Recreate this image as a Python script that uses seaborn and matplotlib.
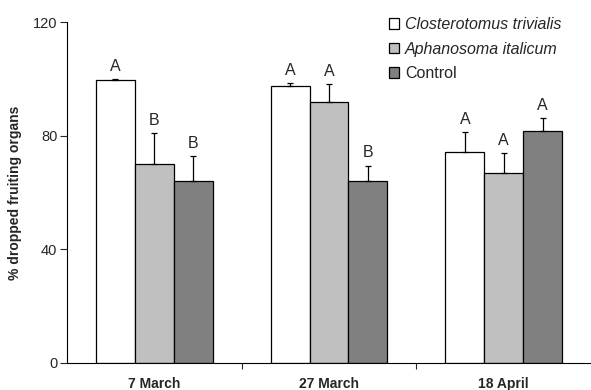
import numpy as np
import pandas as pd
import seaborn as sns
import matplotlib.pyplot as plt
from matplotlib.ticker import FixedLocator

dates = ["7 March", "27 March", "18 April"]
treatments = ["Closterotomus trivialis", "Aphanosoma italicum", "Control"]

# mean % dropped fruiting organs per date, one list per treatment
closterotomus = [99.6, 97.6, 74.1]
aphanosoma = [70.0, 91.8, 67.0]
control = [63.9, 64.2, 81.5]

# standard errors (upper bars only)
closterotomus_se = [0.4, 1.0, 7.3]
aphanosoma_se = [10.8, 6.4, 6.8]
control_se = [8.8, 5.3, 4.8]

# significance letters
closterotomus_sig = ["A", "A", "A"]
aphanosoma_sig = ["B", "A", "A"]
control_sig = ["B", "B", "A"]

colors = ["#ffffff", "#c0c0c0", "#808080"]

rows = []
for t, vals, ses, sig in zip(treatments,
                             [closterotomus, aphanosoma, control],
                             [closterotomus_se, aphanosoma_se, control_se],
                             [closterotomus_sig, aphanosoma_sig, control_sig]):
    for d, v, s, g in zip(dates, vals, ses, sig):
        rows.append({"date": d, "treatment": t, "value": v, "se": s, "sig": g})
df = pd.DataFrame(rows)

sns.set_style("white")
plt.rcParams["font.family"] = ["Liberation Sans", "DejaVu Sans"]
plt.rcParams["font.size"] = 10

fig = plt.figure(figsize=(5.91, 3.90), dpi=100)
ax = fig.add_axes([67 / 591, 27 / 390, 1 - 67 / 591, (363 - 22) / 390])

sns.barplot(data=df, x="date", y="value", hue="treatment", order=dates,
            hue_order=treatments, palette=colors, width=0.667,
            errorbar=None, edgecolor="black", linewidth=0.9, ax=ax)

# error bars and letters over each bar
for t, container in zip(treatments, ax.containers):
    sub = df[df.treatment == t].set_index("date").loc[dates]
    for bar, (_, r) in zip(container.patches, sub.iterrows()):
        xc = bar.get_x() + bar.get_width() / 2
        ax.errorbar(xc, r.value, yerr=[[0], [r.se]], fmt="none",
                    ecolor="black", elinewidth=0.9, capsize=2.3,
                    capthick=0.9)
        ax.text(xc, r.value + r.se + 1.8, r.sig, ha="center", va="bottom",
                fontsize=11.5)

ax.set_xlim(-0.5, 2.5)
ax.set_ylim(0, 120)
ax.set_yticks([0, 40, 80, 120])
ax.set_xlabel("")
ax.set_ylabel("% dropped fruiting organs", fontweight="bold", fontsize=10,
              labelpad=8)
for lbl in ax.get_xticklabels():
    lbl.set_fontweight("bold")

ax.xaxis.set_minor_locator(FixedLocator([0.5, 1.5]))
ax.tick_params(axis="x", which="major", length=0, pad=10, labelsize=10)
ax.tick_params(axis="x", which="minor", length=4, width=0.8, direction="out",
               bottom=True)
ax.tick_params(axis="y", which="major", length=5, width=0.8, direction="out",
               left=True, labelsize=10.5, pad=2)

sns.despine(ax=ax, top=True, right=True)
for side in ["left", "bottom"]:
    ax.spines[side].set_linewidth(0.8)
    ax.spines[side].set_color("black")

handles, labels = ax.get_legend_handles_labels()
leg = ax.legend(handles, labels, loc="upper left",
                bbox_to_anchor=(389 / 591, 1 - 17 / 390),
                bbox_transform=fig.transFigure, frameon=False, fontsize=11.5,
                handlelength=0.65, handleheight=0.65, handletextpad=0.35,
                labelspacing=0.6, borderpad=0, borderaxespad=0)
for txt in leg.get_texts()[:2]:
    txt.set_fontstyle("italic")

fig.savefig("out.png", dpi=100)
